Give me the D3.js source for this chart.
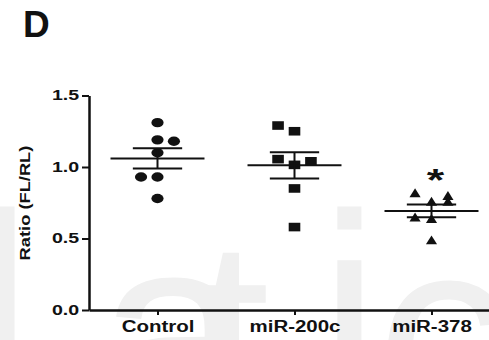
<!DOCTYPE html>
<html>
<head>
<meta charset="utf-8">
<script src="https://cdn.jsdelivr.net/npm/d3@7"></script>
<style>
  body { margin: 0; background: #fff; }
  svg { display: block; font-family: 'Liberation Sans', Arial, sans-serif; }
</style>
</head>
<body>
<div id="chart"></div>
<script>
// groups on the x axis
const groups = ['Control', 'miR-200c', 'miR-378'];

// individual ratios per group
const controlValues = [1.31, 1.19, 1.18, 1.10, 0.93, 0.93, 0.78];
const mir200cValues = [1.29, 1.25, 1.055, 1.04, 1.015, 0.85, 0.58];
const mir378Values = [0.81, 0.79, 0.75, 0.75, 0.64, 0.63, 0.48];

// scatter column of each point (-1 left, 0 centre, 1 right)
const controlJitter = [0, 0, 1, 0, -1, 0, 0];
const mir200cJitter = [-1, 0, -1, 1, 0, 0, 0];
const mir378Jitter = [-1, 1, 1, 0, -1, 0, 0];

const yTicks = [0, 0.5, 1.0, 1.5];
const significant = ['miR-378'];

const width = 489;
const height = 340;
const ink = '#111';

const series = [
  { group: groups[0], values: controlValues, jitter: controlJitter, symbol: d3.symbolCircle, size: 69, sx: 1.3 },
  { group: groups[1], values: mir200cValues, jitter: mir200cJitter, symbol: d3.symbolSquare, size: 74, sx: 1.35 },
  { group: groups[2], values: mir378Values, jitter: mir378Jitter, symbol: d3.symbolTriangle, size: 46, sx: 1.08 }
];

const svg = d3.select('#chart')
  .append('svg')
  .attr('width', width)
  .attr('height', height);

svg.append('rect')
  .attr('width', width)
  .attr('height', height)
  .attr('fill', '#fff');

// faint publisher watermark behind the plot
const mark = svg.append('g')
  .attr('fill', '#f0f0f0')
  .attr('font-size', 274);
[['l', -28, 405], ['a', 98, 425], ['t', 194, 430], ['i', 319, 405], ['c', 376, 428]].forEach(([ch, px, py]) => {
  mark.append('text').attr('x', px).attr('y', py).text(ch);
});

// panel letter
svg.append('text')
  .attr('x', 23)
  .attr('y', 37)
  .attr('font-size', 37)
  .attr('font-weight', 'bold')
  .attr('fill', ink)
  .text('D');

// scales
const x = d3.scalePoint()
  .domain(groups)
  .range([89, 500])
  .padding(0.5);

const y = d3.scaleLinear()
  .domain([0, 1.5])
  .range([310, 95.5]);

const step = x.step();

// y axis
const yAxis = svg.append('g')
  .attr('transform', 'translate(89,0)')
  .call(d3.axisLeft(y)
    .tickValues(yTicks)
    .tickFormat(d3.format('.1f'))
    .tickSize(7)
    .tickSizeOuter(0)
    .tickPadding(0));

yAxis.select('.domain').attr('stroke', ink).attr('stroke-width', 2.5);
yAxis.selectAll('.tick line').attr('stroke', ink).attr('stroke-width', 2);
yAxis.selectAll('.tick text')
  .attr('fill', ink)
  .attr('font-size', 14)
  .attr('font-weight', 'bold')
  .attr('transform', 'scale(1.4,1)');

// x axis
const xAxis = svg.append('g')
  .attr('transform', `translate(0,${y(0)})`)
  .call(d3.axisBottom(x)
    .tickSize(5)
    .tickSizeOuter(0)
    .tickPadding(6));

xAxis.select('.domain').attr('stroke', ink).attr('stroke-width', 2.5);
xAxis.selectAll('.tick line').attr('stroke', ink).attr('stroke-width', 2);
xAxis.selectAll('.tick text')
  .attr('fill', ink)
  .attr('font-size', 16)
  .attr('font-weight', 'bold')
  .attr('transform', 'scale(1.28,1)');

// y axis title
svg.append('text')
  .attr('transform', 'translate(30,203) rotate(-90) scale(1.22,1)')
  .attr('text-anchor', 'middle')
  .attr('font-size', 15)
  .attr('font-weight', 'bold')
  .attr('fill', ink)
  .text('Ratio (FL/RL)');

// points
series.forEach(s => {
  const sym = d3.symbol().type(s.symbol).size(s.size);
  svg.append('g')
    .selectAll('path')
    .data(s.values)
    .enter()
    .append('path')
    .attr('d', sym)
    .attr('fill', ink)
    .attr('transform', (d, i) =>
      `translate(${x(s.group) + s.jitter[i] * 0.12 * step},${y(d)}) scale(${s.sx},1)`);
});

// mean and SEM bars
series.forEach(s => {
  const mean = d3.mean(s.values);
  const sem = d3.deviation(s.values) / Math.sqrt(s.values.length);
  const cx = x(s.group);
  const g = svg.append('g').attr('stroke', ink).attr('stroke-width', 2);

  g.append('line')
    .attr('x1', cx - 0.343 * step)
    .attr('x2', cx + 0.343 * step)
    .attr('y1', y(mean))
    .attr('y2', y(mean));

  g.append('line')
    .attr('x1', cx)
    .attr('x2', cx)
    .attr('y1', y(mean + sem))
    .attr('y2', y(mean - sem));

  [mean + sem, mean - sem].forEach(v => {
    g.append('line')
      .attr('x1', cx - 0.18 * step)
      .attr('x2', cx + 0.18 * step)
      .attr('y1', y(v))
      .attr('y2', y(v));
  });
});

// significance mark
series.filter(s => significant.includes(s.group)).forEach(s => {
  svg.append('text')
    .attr('transform', `translate(${x(s.group) + 4},${y(d3.max(s.values)) - 3}) scale(1.4,1)`)
    .attr('text-anchor', 'middle')
    .attr('font-size', 32)
    .attr('font-weight', 'bold')
    .attr('fill', ink)
    .text('*');
});
</script>
</body>
</html>
